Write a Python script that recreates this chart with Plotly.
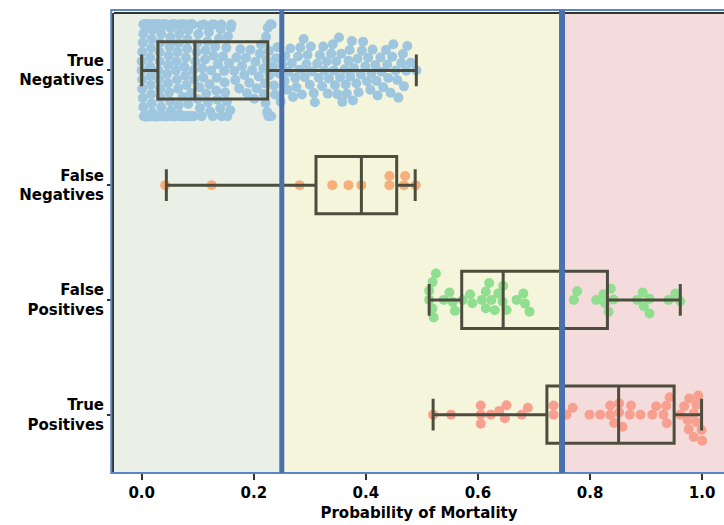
import numpy as np
import plotly.graph_objects as go

# ---------------- data ----------------
categories = ["True<br>Negatives", "False<br>Negatives", "False<br>Positives", "True<br>Positives"]

true_negatives = [
    0.000, 0.000, 0.001, 0.001, 0.001, 0.002, 0.002, 0.003, 0.003, 0.003,
    0.004, 0.004, 0.005, 0.005, 0.006, 0.006, 0.006, 0.007, 0.007, 0.008,
    0.008, 0.009, 0.009, 0.010, 0.010, 0.010, 0.011, 0.011, 0.012, 0.012,
    0.013, 0.013, 0.014, 0.014, 0.015, 0.015, 0.015, 0.016, 0.016, 0.017,
    0.017, 0.018, 0.018, 0.019, 0.019, 0.020, 0.020, 0.020, 0.021, 0.021,
    0.022, 0.022, 0.023, 0.023, 0.024, 0.024, 0.025, 0.025, 0.025, 0.026,
    0.026, 0.027, 0.027, 0.027, 0.028, 0.028, 0.028, 0.029, 0.029, 0.029,
    0.030, 0.031, 0.032, 0.032, 0.033, 0.034, 0.035, 0.035, 0.036, 0.037,
    0.038, 0.039, 0.040, 0.040, 0.041, 0.042, 0.043, 0.044, 0.045, 0.045,
    0.046, 0.047, 0.048, 0.049, 0.050, 0.051, 0.052, 0.052, 0.053, 0.054,
    0.055, 0.056, 0.057, 0.058, 0.059, 0.060, 0.060, 0.061, 0.062, 0.063,
    0.064, 0.065, 0.066, 0.067, 0.068, 0.069, 0.070, 0.071, 0.072, 0.073,
    0.074, 0.075, 0.076, 0.077, 0.078, 0.079, 0.080, 0.081, 0.082, 0.083,
    0.084, 0.085, 0.086, 0.087, 0.088, 0.089, 0.090, 0.091, 0.093, 0.094,
    0.033, 0.038, 0.043, 0.047, 0.051, 0.056, 0.061, 0.066, 0.070, 0.075,
    0.079, 0.083, 0.087, 0.090, 0.092,
    0.096, 0.098, 0.099, 0.101, 0.103, 0.104, 0.106, 0.108, 0.110, 0.111,
    0.113, 0.115, 0.117, 0.118, 0.120, 0.122, 0.124, 0.126, 0.127, 0.129,
    0.131, 0.133, 0.134, 0.136, 0.138, 0.140, 0.142, 0.143, 0.145, 0.147,
    0.149, 0.151, 0.152, 0.154, 0.156, 0.158, 0.160, 0.165, 0.167,
    0.169, 0.174, 0.176, 0.179, 0.183, 0.186, 0.188,
    0.192, 0.194, 0.197, 0.201, 0.203, 0.205, 0.209, 0.211,
    0.213, 0.217, 0.218, 0.220, 0.221, 0.222, 0.223, 0.224,
    0.100, 0.107, 0.114, 0.121, 0.128, 0.135, 0.141, 0.148, 0.153, 0.159,
    0.225, 0.226, 0.227, 0.228, 0.229, 0.231, 0.232, 0.234, 0.236, 0.238,
    0.240, 0.242, 0.245, 0.248, 0.251, 0.256, 0.262, 0.265, 0.270, 0.274,
    0.279, 0.283, 0.286, 0.291, 0.296, 0.300, 0.304, 0.309, 0.313, 0.318,
    0.322, 0.326, 0.330, 0.334, 0.338, 0.341, 0.345, 0.349, 0.352, 0.356,
    0.358, 0.362, 0.366, 0.369, 0.372, 0.375, 0.379, 0.383, 0.387, 0.391,
    0.395, 0.399, 0.404, 0.408, 0.412, 0.417, 0.421, 0.426, 0.431, 0.436,
    0.440, 0.444, 0.449, 0.453, 0.458, 0.463, 0.468, 0.474, 0.480, 0.490,
    0.255, 0.260, 0.268, 0.276, 0.281, 0.289, 0.294, 0.302, 0.307, 0.316,
    0.324, 0.332, 0.343, 0.347, 0.354, 0.364, 0.371, 0.377, 0.385, 0.393,
    0.402, 0.410, 0.419, 0.428, 0.438, 0.447, 0.456, 0.466, 0.472,
]

false_negatives = [0.042, 0.125, 0.282, 0.340, 0.369, 0.392, 0.442, 0.442, 0.468, 0.470, 0.489]

false_positives = [
    0.513, 0.513, 0.519, 0.519, 0.521, 0.525, 0.539, 0.549, 0.555, 0.559,
    0.573, 0.586, 0.590, 0.607, 0.614, 0.614, 0.620, 0.624, 0.630, 0.636,
    0.644, 0.645, 0.651, 0.669, 0.681, 0.684, 0.692, 0.771, 0.777, 0.811,
    0.824, 0.827, 0.833, 0.837, 0.842, 0.884, 0.894, 0.896, 0.906, 0.906,
    0.940, 0.952, 0.961,
]

true_positives = [
    0.520, 0.552, 0.605, 0.605, 0.605, 0.623, 0.638, 0.648, 0.651, 0.678,
    0.689, 0.735, 0.735, 0.758, 0.769, 0.799, 0.818, 0.836, 0.836, 0.843,
    0.852, 0.852, 0.858, 0.871, 0.873, 0.890, 0.911, 0.918, 0.931, 0.936,
    0.937, 0.942, 0.961, 0.968, 0.974, 0.976, 0.977, 0.985, 0.985, 0.990,
    0.990, 0.993, 0.999, 1.000,
]

# box statistics (whiskers span min..max)
box_low = [0.000, 0.044, 0.513, 0.520]
box_q1 = [0.029, 0.311, 0.571, 0.723]
box_median = [0.095, 0.392, 0.645, 0.851]
box_q3 = [0.225, 0.455, 0.831, 0.950]
box_high = [0.490, 0.488, 0.961, 0.999]

thresholds = [0.25, 0.75]
x_ticks = [0.0, 0.2, 0.4, 0.6, 0.8, 1.0]
x_ticklabels = ["0.0", "0.2", "0.4", "0.6", "0.8", "1.0"]

# ---------------- styling ----------------
point_colors = ["#9ec6df", "#f8ae78", "#90de90", "#f7a090"]
BOX_COLOR = "#4d4d3e"
BG_COLORS = ["#eaf0e5", "#f5f5dc", "#f5dcdc"]
BLUE = "#4a70ad"
FONT = "DejaVu Sans"

W, H = 724, 525
ML, MR, MT, MB = 114, 0, 13, 53
XMIN, XMAX = -0.0494, 1.039
X_PX = (W - ML - MR) / (XMAX - XMIN)
Y_PX = (H - MT - MB) / 4.0
DOT = 9.2          # swarm spacing in px
MARKER = 10        # drawn marker diameter in px
HALF_WIDTH = 0.4


def swarm_offsets(vals):
    """Beeswarm offsets (category units) computed from the values."""
    v = np.asarray(vals, dtype=float)
    order = np.argsort(v, kind="stable")
    placed = []
    offs = np.zeros(len(v))
    for i in order:
        x = v[i] * X_PX
        neigh = [(px, py) for px, py in placed if abs(px - x) < DOT]
        cands = [0.0]
        for px, py in neigh:
            dy = np.sqrt(max(DOT ** 2 - (px - x) ** 2, 0.0))
            cands += [py - dy, py + dy]
        cands.sort(key=abs)
        chosen = cands[-1]
        for c in cands:
            if all((px - x) ** 2 + (py - c) ** 2 >= DOT ** 2 - 1e-6 for px, py in neigh):
                chosen = c
                break
        placed.append((x, chosen))
        offs[i] = chosen
    offs = offs / Y_PX
    return np.clip(offs, -HALF_WIDTH, HALF_WIDTH)


series = [true_negatives, false_negatives, false_positives, true_positives]

fig = go.Figure()
for i, vals in enumerate(series):
    off = swarm_offsets(vals)
    fig.add_trace(go.Scatter(
        x=vals, y=i + off, mode="markers",
        marker=dict(size=MARKER, color=point_colors[i], line=dict(width=0)),
        showlegend=False, hoverinfo="x", yaxis="y",
    ))

for i in range(len(categories)):
    fig.add_trace(go.Box(
        y=[i], q1=[box_q1[i]], median=[box_median[i]], q3=[box_q3[i]],
        lowerfence=[box_low[i]], upperfence=[box_high[i]],
        orientation="h", width=0.5, whiskerwidth=0.55,
        line=dict(color=BOX_COLOR, width=3), fillcolor="rgba(0,0,0,0)",
        boxpoints=False, showlegend=False, yaxis="y2",
    ))

shapes = []
edges = [XMIN, thresholds[0], thresholds[1], XMAX]
for k in range(3):
    shapes.append(dict(type="rect", xref="x", yref="paper", x0=edges[k], x1=edges[k + 1],
                       y0=0, y1=1, fillcolor=BG_COLORS[k], line=dict(width=0), layer="below"))
shapes.append(dict(type="line", xref="paper", yref="paper", x0=0, x1=1, y0=1, y1=1,
                   line=dict(color="#333333", width=2), layer="above"))
shapes.append(dict(type="rect", xref="paper", yref="paper", x0=-0.0045, x1=1.02,
                   y0=-0.002, y1=1.0065, line=dict(color="#5a86c5", width=2), layer="above"))
for t, wdt in zip(thresholds, [5, 6]):
    shapes.append(dict(type="line", xref="x", yref="paper", x0=t, x1=t, y0=-0.002, y1=1.0065,
                       line=dict(color=BLUE, width=wdt), layer="above"))

fig.update_layout(
    width=W, height=H,
    margin=dict(l=ML, r=MR, t=MT, b=MB),
    paper_bgcolor="white", plot_bgcolor="white",
    font=dict(family=FONT, size=15, color="black", weight="bold"),
    shapes=shapes,
    xaxis=dict(
        range=[XMIN, XMAX], tickvals=x_ticks, ticktext=x_ticklabels,
        showgrid=False, zeroline=False, showline=True, linecolor="#333333", linewidth=2,
        ticks="outside", ticklen=6, tickwidth=1.5, tickcolor="#333333",
        tickfont=dict(family=FONT, size=15, color="black", weight="bold"),
        title=dict(text="Probability of Mortality", standoff=6,
                   font=dict(family=FONT, size=15, color="black", weight="bold")),
    ),
    yaxis=dict(
        range=[3.5, -0.5], tickvals=[0, 1, 2, 3], ticktext=categories,
        showgrid=False, zeroline=False, showline=True, linecolor="#333333", linewidth=2,
        ticks="outside", ticklen=5, tickwidth=1.5, tickcolor="#333333",
        tickfont=dict(family=FONT, size=15, color="black", weight="bold"),
    ),
    yaxis2=dict(range=[3.5, -0.5], overlaying="y", visible=False),
)

fig.write_html(
    "out.html",
    config={"displayModeBar": False},
    post_script="document.body.style.margin='0px';document.body.style.overflow='hidden';",
)
